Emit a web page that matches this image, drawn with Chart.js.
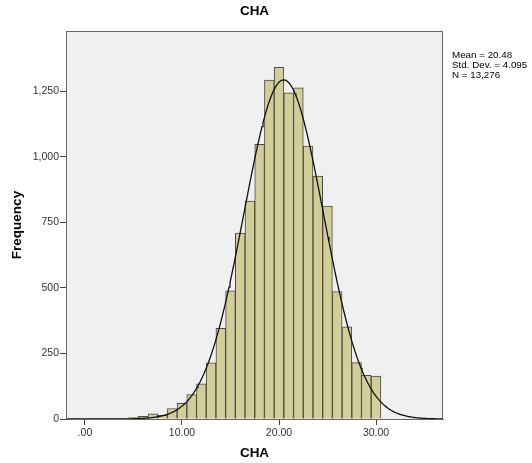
<!DOCTYPE html>
<html>
<head>
<meta charset="utf-8">
<script src="https://cdn.jsdelivr.net/npm/chart.js@4.4.1/dist/chart.umd.min.js"></script>
<style>
  body { margin: 0; background: #fff; }
  #wrap { position: relative; width: 532px; height: 463px; }
</style>
</head>
<body>
<div id="wrap"><canvas id="histChart"></canvas></div>
<script>
// CHA score bins (integer values) and their counts
const bins = [5, 6, 7, 8, 9, 10, 11, 12, 13, 14, 15, 16, 17, 18, 19, 20, 21, 22, 23, 24, 25, 26, 27, 28, 29, 30];
const counts = [5, 10, 20, 14, 40, 60, 93, 134, 214, 346, 489, 709, 831, 1048, 1293, 1341, 1244, 1263, 1041, 927, 812, 486, 352, 215, 167, 164];

// summary stats printed next to the plot (also used for the normal curve)
const mean = 20.48;
const stdDev = 4.095;
const n = 13276;
const statLines = ['Mean = 20.48', 'Std. Dev. = 4.095', 'N = 13,276'];

const xTicks = [0, 10, 20, 30];
const xTickLabels = ['.00', '10.00', '20.00', '30.00'];
const yTicks = [0, 250, 500, 750, 1000, 1250];
const yTickLabels = ['0', '250', '500', '750', '1,000', '1,250'];

const xMin = -1.95, xMax = 36.9;
const yMax = 1480;
const FONT = '"Liberation Sans", Arial, sans-serif';

// fitted normal curve scaled to counts (bin width = 1)
const curve = [];
for (let x = xMin; x <= xMax; x += 0.1) {
    const z = (x - mean) / stdDev;
    curve.push({ x: x, y: n * Math.exp(-0.5 * z * z) / (stdDev * Math.sqrt(2 * Math.PI)) });
}

const framePlugin = {
    id: 'frame',
    beforeDraw(chart) {
        const { ctx, chartArea: a } = chart;
        ctx.save();
        ctx.fillStyle = '#f0f0f0';
        ctx.fillRect(a.left, a.top, a.right - a.left, a.bottom - a.top);
        ctx.restore();
    },
    afterDraw(chart) {
        const { ctx, chartArea: a } = chart;
        ctx.save();
        ctx.strokeStyle = '#666';
        ctx.lineWidth = 1;
        ctx.strokeRect(a.left + 0.5, a.top + 0.5, a.right - a.left - 1, a.bottom - a.top);

        // main title
        ctx.fillStyle = '#000';
        ctx.font = 'bold 13.5px ' + FONT;
        ctx.textAlign = 'center';
        ctx.textBaseline = 'middle';
        ctx.fillText('CHA', (a.left + a.right) / 2, 11);

        // stats box
        ctx.font = '9.8px ' + FONT;
        ctx.textAlign = 'left';
        statLines.forEach((t, i) => ctx.fillText(t, 452, 55 + i * 10.2));
        ctx.restore();
    }
};

new Chart(document.getElementById('histChart'), {
    type: 'bar',
    data: {
        datasets: [
            {
                type: 'line',
                data: curve,
                borderColor: '#111',
                borderWidth: 1.3,
                pointRadius: 0,
                tension: 0,
                order: 0
            },
            {
                type: 'bar',
                data: bins.map((b, i) => ({ x: b, y: counts[i] })),
                backgroundColor: '#d3ce97',
                borderColor: '#4a4a4a',
                borderWidth: 1,
                barPercentage: 1,
                categoryPercentage: 1,
                order: 1
            }
        ]
    },
    options: {
        responsive: true,
        maintainAspectRatio: false,
        animation: false,
        layout: { padding: { left: 0, top: 31, right: 89, bottom: 0 } },
        plugins: {
            legend: { display: false },
            tooltip: { enabled: false }
        },
        scales: {
            x: {
                type: 'linear',
                min: xMin,
                max: xMax,
                offset: false,
                afterFit: s => { s.height = 44; },
                afterBuildTicks: s => { s.ticks = xTicks.map(v => ({ value: v })); },
                grid: { offset: false, drawOnChartArea: false, drawTicks: true, tickLength: 6, color: '#444' },
                border: { display: true, color: '#666' },
                ticks: {
                    autoSkip: false,
                    maxRotation: 0,
                    padding: 2,
                    color: '#333',
                    font: { family: FONT, size: 10.5 },
                    callback: (v, i) => xTickLabels[i]
                },
                title: {
                    display: true,
                    text: 'CHA',
                    color: '#000',
                    font: { family: FONT, size: 13.5, weight: 'bold' },
                    padding: { top: 0, bottom: 2 }
                }
            },
            y: {
                min: 0,
                max: yMax,
                afterFit: s => { s.width = 66; },
                afterBuildTicks: s => { s.ticks = yTicks.map(v => ({ value: v })); },
                grid: { drawOnChartArea: false, drawTicks: true, tickLength: 6, color: '#444' },
                border: { display: true, color: '#666' },
                ticks: {
                    autoSkip: false,
                    padding: 1,
                    color: '#333',
                    font: { family: FONT, size: 10.5 },
                    callback: (v, i) => yTickLabels[i]
                },
                title: {
                    display: true,
                    text: 'Frequency',
                    color: '#000',
                    font: { family: FONT, size: 13.5, weight: 'bold' },
                    padding: { top: 9, bottom: 0 }
                }
            }
        }
    },
    plugins: [framePlugin]
});
</script>
</body>
</html>
